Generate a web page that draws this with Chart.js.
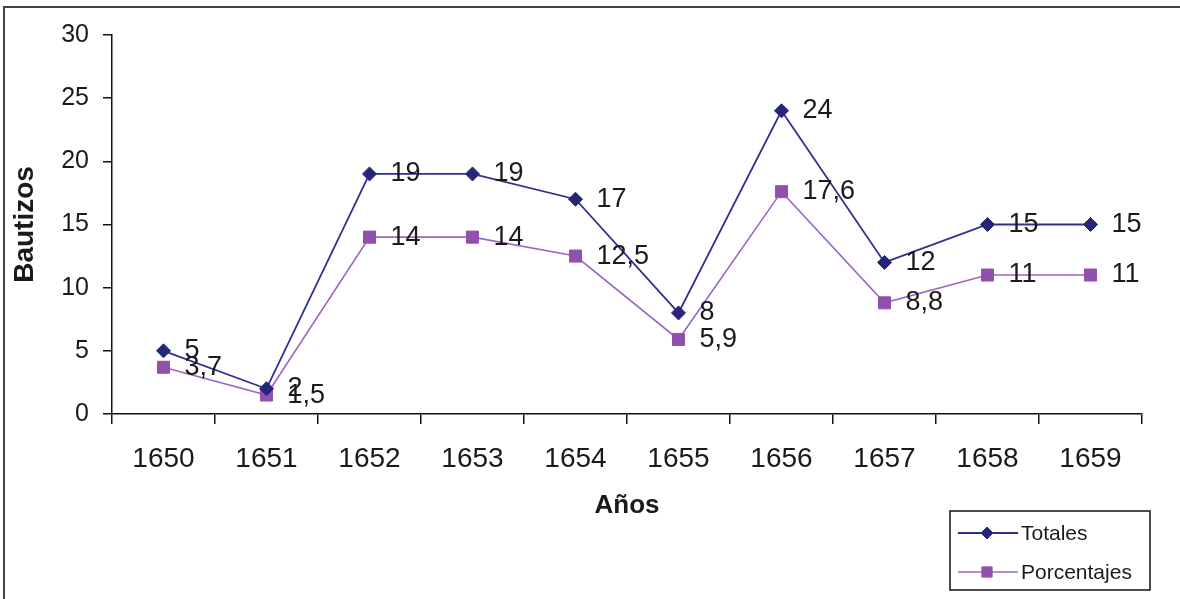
<!DOCTYPE html>
<html><head><meta charset="utf-8">
<script src="https://cdn.jsdelivr.net/npm/chart.js@4/dist/chart.umd.min.js"></script>
<style>html,body{margin:0;padding:0;background:#fff}#wrap{width:1180px;height:599px;position:relative}</style>
</head><body><div id="wrap"><canvas id="c" width="1180" height="599"></canvas></div>
<script>
const years = ['1650','1651','1652','1653','1654','1655','1656','1657','1658','1659'];
const totales = [5, 2, 19, 19, 17, 8, 24, 12, 15, 15];
const porcentajes = [3.7, 1.5, 14, 14, 12.5, 5.9, 17.6, 8.8, 11, 11];
const yTicks = [0, 5, 10, 15, 20, 25, 30];
const seriesNames = ['Totales', 'Porcentajes'];

const FONT = "'Liberation Sans', Arial, sans-serif";
const TXT = '#1a1a1a';

const framePlugin = {
  id: 'frame',
  beforeDraw(chart) {
    const ctx = chart.ctx;
    ctx.save();
    ctx.fillStyle = '#fff';
    ctx.fillRect(0, 0, chart.width, chart.height);
    ctx.strokeStyle = '#444';
    ctx.lineWidth = 2;
    ctx.beginPath();
    ctx.moveTo(4, chart.height);
    ctx.lineTo(4, 7);
    ctx.lineTo(chart.width, 7);
    ctx.stroke();
    ctx.restore();
  }
};

const labelPlugin = {
  id: 'vlabels',
  afterDatasetsDraw(chart) {
    const ctx = chart.ctx;
    ctx.save();
    ctx.font = '27px ' + FONT;
    ctx.fillStyle = TXT;
    ctx.textAlign = 'left';
    ctx.textBaseline = 'middle';
    chart.data.datasets.forEach((ds, di) => {
      const meta = chart.getDatasetMeta(di);
      meta.data.forEach((pt, i) => {
        const txt = String(ds.data[i]).replace('.', ',');
        ctx.fillText(txt, pt.x + 21, pt.y);
      });
    });
    ctx.restore();
  }
};

const legendPlugin = {
  id: 'boxlegend',
  afterDraw(chart) {
    const ctx = chart.ctx;
    const bx = 950, by = 511, bw = 200, bh = 79;
    ctx.save();
    ctx.fillStyle = '#fff';
    ctx.fillRect(bx, by, bw, bh);
    ctx.strokeStyle = '#111';
    ctx.lineWidth = 1.5;
    ctx.strokeRect(bx, by, bw, bh);
    chart.data.datasets.forEach((ds, di) => {
      const y = by + 22 + di * 39;
      ctx.strokeStyle = ds.borderColor;
      ctx.lineWidth = ds.borderWidth;
      ctx.beginPath();
      ctx.moveTo(bx + 8, y);
      ctx.lineTo(bx + 68, y);
      ctx.stroke();
      ctx.fillStyle = ds.pointBackgroundColor;
      ctx.strokeStyle = ds.pointBorderColor;
      ctx.lineWidth = 1;
      Chart.helpers.drawPoint(ctx, {pointStyle: ds.pointStyle, radius: ds.pointRadius * 0.85, borderWidth: 1}, bx + 37, y);
      ctx.fillStyle = TXT;
      ctx.font = '21px ' + FONT;
      ctx.textAlign = 'left';
      ctx.textBaseline = 'middle';
      ctx.fillText(ds.label, bx + 71, y + 1);
    });
    ctx.restore();
  }
};

new Chart(document.getElementById('c'), {
  type: 'line',
  data: {
    labels: years,
    datasets: [
      {
        label: seriesNames[0], data: totales,
        borderColor: '#2e3192', borderWidth: 1.8,
        pointStyle: 'rectRot', pointRadius: 7,
        pointBackgroundColor: '#25257a', pointBorderColor: '#25257a', pointBorderWidth: 1,
        tension: 0, fill: false
      },
      {
        label: seriesNames[1], data: porcentajes,
        borderColor: '#9b66c8', borderWidth: 1.6,
        pointStyle: 'rect', pointRadius: 8.5,
        pointBackgroundColor: '#9150ac', pointBorderColor: '#9150ac', pointBorderWidth: 1,
        tension: 0, fill: false
      }
    ]
  },
  options: {
    responsive: false,
    animation: false,
    devicePixelRatio: 1,
    layout: { padding: { left: 4, right: 38, top: 35, bottom: 74 } },
    plugins: { legend: { display: false }, tooltip: { enabled: false } },
    scales: {
      x: {
        offset: true,
        grid: { display: true, offset: true, drawOnChartArea: false, drawTicks: true, tickLength: 10, color: '#111', lineWidth: 1.5 },
        border: { display: true, color: '#111', width: 1.5 },
        ticks: { color: TXT, font: { family: FONT, size: 28 }, padding: 18, maxRotation: 0 },
        title: { display: true, text: 'Años', color: TXT, font: { family: FONT, size: 26, weight: 'bold' }, padding: { top: 4, bottom: 4 } },
        afterFit(s) { s.height = 111; }
      },
      y: {
        min: 0, max: 30,
        afterBuildTicks(s) { s.ticks = yTicks.map(v => ({ value: v })); },
        grid: { display: true, drawOnChartArea: false, drawTicks: true, tickLength: 9, color: '#111', lineWidth: 1.5 },
        border: { display: true, color: '#111', width: 1.5 },
        ticks: { color: TXT, font: { family: FONT, size: 25 }, padding: 14 },
        title: { display: true, text: 'Bautizos', color: TXT, font: { family: FONT, size: 28, weight: 'bold' }, padding: { top: 4, bottom: 4 } },
        afterFit(s) { s.width = 108; }
      }
    }
  },
  plugins: [framePlugin, labelPlugin, legendPlugin]
});
</script>
</body></html>
